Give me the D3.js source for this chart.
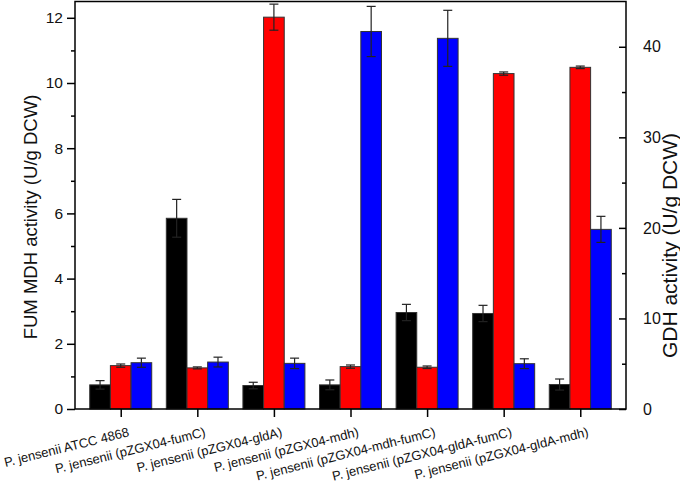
<!DOCTYPE html>
<html><head><meta charset="utf-8">
<script src="https://cdn.jsdelivr.net/npm/d3@7"></script>
<style>body{margin:0;background:#fff}svg{display:block;font-family:Arial,"Liberation Sans",sans-serif}</style>
</head><body>
<svg id="c" width="680" height="485"></svg>
<script>
const categories = ["P. jensenii ATCC 4868","P. jensenii (pZGX04-fumC)","P. jensenii (pZGX04-gldA)","P. jensenii (pZGX04-mdh)","P. jensenii (pZGX04-mdh-fumC)","P. jensenii (pZGX04-gldA-fumC)","P. jensenii (pZGX04-gldA-mdh)"];
// FUM activity (black, left axis, U/g DCW)
const fumValues = [0.74, 5.85, 0.72, 0.74, 2.96, 2.93, 0.75];
const fumErrors = [0.13, 0.58, 0.10, 0.15, 0.25, 0.25, 0.17];
// GDH activity (red, right axis, U/g DCW)
const gdhValues = [4.79, 4.54, 43.27, 4.68, 4.61, 37.04, 37.73];
const gdhErrors = [0.18, 0.11, 1.44, 0.18, 0.14, 0.18, 0.14];
// MDH activity (blue, left axis, U/g DCW)
const mdhValues = [1.42, 1.44, 1.40, 11.58, 11.37, 1.39, 5.51];
const mdhErrors = [0.14, 0.15, 0.16, 0.77, 0.86, 0.15, 0.40];
const leftTicks = [0,2,4,6,8,10,12];
const leftMinor = [1,3,5,7,9,11];
const rightTicks = [0,10,20,30,40];
const rightMinor = [5,15,25,35];

const svg = d3.select("#c");
const L = 75, R = 626, T = 1.5, B = 409;
const x = d3.scalePoint().domain(categories).range([L, R]).padding(0.597);
const sub = d3.scaleBand().domain(["fum","gdh","mdh"]).range([-31, 31]).padding(0);
const yL = d3.scaleLinear().domain([0, 12.5]).range([B, T]);
const yR = d3.scaleLinear().domain([0, 45]).range([B, T]);

const series = [
  {key:"fum", vals:fumValues, errs:fumErrors, color:"#000000", y:yL},
  {key:"gdh", vals:gdhValues, errs:gdhErrors, color:"#ff0000", y:yR},
  {key:"mdh", vals:mdhValues, errs:mdhErrors, color:"#0000ff", y:yL}
];

series.forEach(s => {
  const g = svg.append("g");
  categories.forEach((c, i) => {
    const x0 = x(c) + sub(s.key);
    const w = sub.bandwidth();
    g.append("rect").attr("x", x0).attr("y", s.y(s.vals[i])).attr("width", w)
      .attr("height", s.y(0) - s.y(s.vals[i])).attr("fill", s.color)
      .attr("stroke", "#333").attr("stroke-width", 1);
  });
});
series.forEach(s => {
  const g = svg.append("g").attr("stroke", "#222").attr("stroke-width", 1.2);
  categories.forEach((c, i) => {
    const cx = x(c) + sub(s.key) + sub.bandwidth()/2;
    const hi = s.y(s.vals[i] + s.errs[i]), lo = s.y(s.vals[i] - s.errs[i]);
    g.append("line").attr("x1", cx).attr("x2", cx).attr("y1", hi).attr("y2", lo);
    g.append("line").attr("x1", cx-4.5).attr("x2", cx+4.5).attr("y1", hi).attr("y2", hi);
    g.append("line").attr("x1", cx-4.5).attr("x2", cx+4.5).attr("y1", lo).attr("y2", lo);
  });
});

// frame
svg.append("rect").attr("x", L).attr("y", T).attr("width", R-L).attr("height", B-T)
  .attr("fill", "none").attr("stroke", "#000").attr("stroke-width", 1.5);

// left axis
const la = svg.append("g").attr("transform", `translate(${L},0)`)
  .call(d3.axisLeft(yL).tickValues(leftTicks).tickSize(8).tickPadding(4).tickFormat(d3.format("d")));
svg.append("g").attr("transform", `translate(${L},0)`)
  .call(d3.axisLeft(yL).tickValues(leftMinor).tickSize(4).tickFormat(""));
// right axis (ticks inward)
const ra = svg.append("g").attr("transform", `translate(${R},0)`)
  .call(d3.axisRight(yR).tickValues(rightTicks).tickSize(-7).tickPadding(17).tickFormat(d3.format("d")));
svg.append("g").attr("transform", `translate(${R},0)`)
  .call(d3.axisRight(yR).tickValues(rightMinor).tickSize(-4).tickFormat(""));
// bottom axis
const ba = svg.append("g").attr("transform", `translate(0,${B})`)
  .call(d3.axisBottom(x).tickSize(8).tickFormat(""));

svg.selectAll(".domain").remove();
svg.selectAll(".tick line").attr("stroke", "#000").attr("stroke-width", 1.5);
la.selectAll("text").attr("font-size", 15.5).attr("fill", "#111").attr("font-family", "Arial, 'Liberation Sans', sans-serif");
ra.selectAll("text").attr("font-size", 16).attr("fill", "#111").attr("font-family", "Arial, 'Liberation Sans', sans-serif");

// x labels
svg.append("g").selectAll("text").data(categories).join("text")
  .attr("transform", d => `translate(${x(d)+9},${B+27}) rotate(-14)`)
  .attr("text-anchor", "end").attr("font-size", 13).attr("fill", "#111").text(d => d);

// axis titles
svg.append("text").attr("transform", `translate(37,217) rotate(-90)`)
  .attr("text-anchor", "middle").attr("font-size", 18.5).attr("fill", "#111")
  .text("FUM MDH activity (U/g DCW)");
svg.append("text").attr("transform", `translate(677,245.5) rotate(-90)`)
  .attr("text-anchor", "middle").attr("font-size", 21).attr("fill", "#111")
  .text("GDH activity (U/g DCW)");
</script>
</body></html>
